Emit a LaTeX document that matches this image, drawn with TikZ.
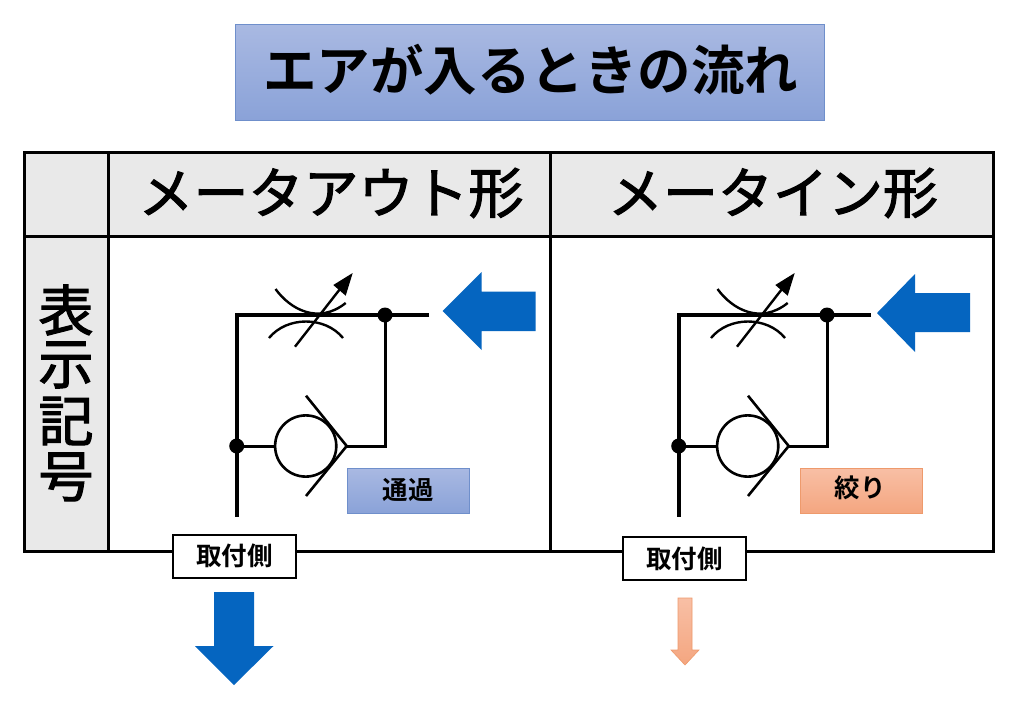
\documentclass[tikz,border=0pt]{standalone}
\usepackage{fontspec}
\newfontfamily\jpfont[FakeBold=2]{Noto Sans CJK JP}
\newfontfamily\jpbold{Noto Sans CJK JP Bold}
\usetikzlibrary{arrows.meta}
\definecolor{airblue}{HTML}{0565C0}
\definecolor{gridgray}{HTML}{E9E9E9}
\definecolor{bluetop}{HTML}{A9B9E2}
\definecolor{bluebot}{HTML}{8AA2D8}
\definecolor{blueedge}{HTML}{6F8FCB}
\definecolor{orangetop}{HTML}{F8BFA5}
\definecolor{orangebot}{HTML}{F4A680}
\definecolor{orangeedge}{HTML}{EE9A6C}
\tikzset{
  x=1pt,y=-1pt,
  gridline/.style={draw=black,line width=3pt},
  headcell/.style={fill=gridgray,draw=none},
  headtext/.style={font=\fontsize{55}{55}\jpfont,inner sep=0pt,text=black},
  sidetext/.style={font=\fontsize{55}{55}\jpfont,inner sep=0pt,text=black},
  bluebox/.style={draw=blueedge,line width=0.8pt,top color=bluetop,bottom color=bluebot,inner sep=0pt},
  orangebox/.style={draw=orangeedge,line width=0.8pt,top color=orangetop,bottom color=orangebot,inner sep=0pt},
  smalltext/.style={font=\fontsize{25.5}{26}\jpbold,text=black},
  mountbox/.style={draw=black,line width=2pt,fill=white,minimum width=123pt,minimum height=43pt,inner sep=0pt,font=\fontsize{25.5}{26}\jpbold},
  pipe/.style={draw=black,line width=3.2pt},
  dot/.style={circle,fill=black,minimum size=15pt,inner sep=0pt},
  airarrow/.style={fill=airblue,draw=none},
  softarrow/.style={top color=orangetop,bottom color=orangebot,draw=orangeedge,line width=0.6pt},
}
\newcommand{\valvegroup}[1]{%
  \begin{scope}[xshift=#1pt]
    \coordinate (tl) at (236.7,315);
    \coordinate (tr) at (429,315);
    \coordinate (bl) at (236.7,516.5);
    \coordinate (jb) at (236.7,446);
    \coordinate (jt) at (385,315);
    \coordinate (seat) at (346.7,446);
    \coordinate (rc) at (385,446);
    \path[pipe] (tr) -- (tl);
    \path[pipe,line width=4pt] (236.7,313.4) -- (bl);
    \path[pipe,line width=3pt] (jt) -- (rc) -- (seat);
    \path[pipe,line width=3pt] (jb) -- (275,446);
    \draw[line width=2.6pt] (305.7,446) circle (30.6);
    \draw[line width=2.6pt] (306,395.7) -- (seat) -- (306,496);
    \draw[line width=2.4pt] (275.5,289) .. controls (290,309) and (318,325) .. (345.7,303);
    \draw[line width=2.4pt] (269,338) .. controls (287,316) and (325,316) .. (343,338);
    \draw[line width=2.4pt] (295,346.7) -- (340,289);
    \fill (352.7,273) -- (345.7,295.7) -- (333.3,285) -- cycle;
    \node[dot] at (jt) {};
    \node[dot] at (jb) {};
  \end{scope}}
\begin{document}
\begin{tikzpicture}
\useasboundingbox (0,0) rectangle (1024,704);
\fill[white] (0,0) rectangle (1024,704);
% title
\path[bluebox] (235,24) rectangle (824,120);
\node[font=\fontsize{53.5}{53.5}\jpbold,inner sep=0pt] (title) at (530.5,70) {エアが入るときの流れ};
% table
\fill[headcell] (24,152) rectangle (993,236);
\fill[headcell] (24,236) rectangle (108,551);
\draw[gridline] (24,152) rectangle (993,551);
\draw[gridline] (108,152) -- (108,551);
\draw[gridline] (550,152) -- (550,551);
\draw[gridline] (24,236) -- (993,236);
\node[headtext] (h1) at (331,193) {メータアウト形};
\node[headtext] (h2) at (773,193) {メータイン形};
\node[sidetext] (s1) at (66,310) {表};
\node[sidetext] (s2) at (66,365) {示};
\node[sidetext] (s3) at (66,421) {記};
\node[sidetext] (s4) at (66,477) {号};
% symbols
\valvegroup{0}
\valvegroup{442}
% inlet arrows
\path[airarrow] (442.7,311) -- (481.7,272) -- (481.7,291.5) -- (535.5,291.5) -- (535.5,331) -- (481.7,331) -- (481.7,350) -- cycle;
\path[airarrow] (877,313) -- (915,274) -- (915,293) -- (970,293) -- (970,332) -- (915,332) -- (915,352) -- cycle;
% state boxes
\path[bluebox] (347,468) rectangle (469,513);
\node[smalltext] (pass) at (408,490) {通過};
\path[orangebox] (800,468) rectangle (922,513);
\node[smalltext] (thr) at (860,488) {絞り};
% mount
\node[mountbox] (m1) at (234.5,556) {取付側};
\node[mountbox] (m2) at (684.5,558.5) {取付側};
% outlet arrows
\path[airarrow] (214,592) -- (254,592) -- (254,646) -- (273.5,646) -- (234,685) -- (195,646) -- (214,646) -- cycle;
\path[softarrow] (678,598) -- (692,598) -- (692,650) -- (699,650) -- (685,665) -- (671,650) -- (678,650) -- cycle;
\end{tikzpicture}
\end{document}
